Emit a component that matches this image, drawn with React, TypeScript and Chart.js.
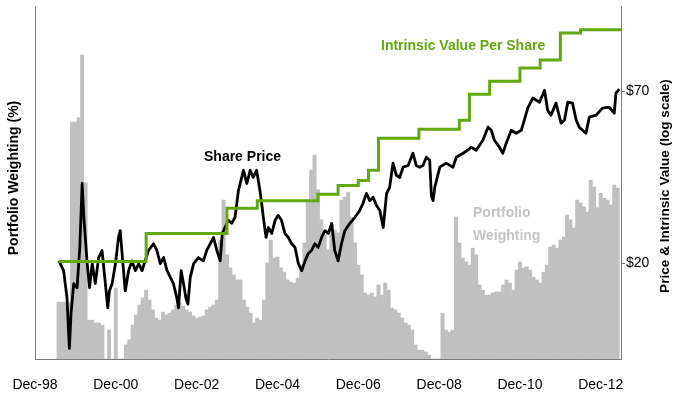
import React, { useEffect, useRef } from 'react';
import { Chart, registerables } from 'chart.js';

Chart.register(...registerables);

const FONT = "'Liberation Sans', Arial, Helvetica, sans-serif";
const GREEN = '#64a80f';
const BAR_GRAY = '#c0c0c0';
const AXIS = '#7a7a7a';

// x axis: months since Dec-98
const tickMonths = [0, 24, 48, 72, 96, 120, 144, 168];
const tickLabels = ['Dec-98', 'Dec-00', 'Dec-02', 'Dec-04', 'Dec-06', 'Dec-08', 'Dec-10', 'Dec-12'];
const priceTicks = [20, 70];

// Portfolio weighting (%), monthly, first bar = month 7 (Jul-99)
const weightStartMonth = 7;
const weighting = [
  1.61, 1.61, 1.61, 1.61, 6.71, 6.71, 6.83, 8.61, 4.99, 1.10,
  1.10, 1.02, 1.02, 0.96, 0, 0.82, 0, 2.01, 0, 0,
  0.40, 0.54, 0.96, 1.25, 1.53, 1.73, 1.95, 1.67, 1.39, 1.16,
  1.10, 1.33, 1.25, 1.30, 1.39, 1.53, 1.59, 1.50, 1.39, 1.33,
  1.22, 1.16, 1.19, 1.22, 1.39, 1.47, 1.53, 1.67, 3.37, 4.50,
  2.95, 2.58, 2.38, 2.24, 2.24, 1.67, 1.47, 1.30, 1.02, 1.16,
  1.10, 1.67, 2.72, 3.37, 2.86, 2.89, 2.58, 2.46, 2.24, 2.18,
  2.15, 2.29, 2.66, 3.29, 4.50, 5.35, 5.78, 4.79, 3.94, 3.51,
  3.09, 3.80, 3.65, 3.57, 4.50, 4.59, 4.73, 4.02, 3.29, 2.66,
  2.38, 1.87, 1.81, 1.87, 1.76, 2.10, 1.81, 2.15, 1.95, 1.44,
  1.39, 1.30, 1.16, 1.02, 0.96, 0.82, 0.40, 0.25, 0.25, 0.20,
  0.11, 0, 0, 0, 1.30, 0.82, 0.76, 0.82, 4.02, 3.29,
  2.86, 2.75, 2.66, 3.14, 2.95, 2.10, 1.95, 1.81, 1.81, 1.87,
  1.90, 1.90, 2.10, 2.24, 2.15, 1.95, 2.52, 2.75, 2.58, 2.61,
  2.52, 2.32, 2.24, 2.15, 2.46, 2.66, 3.17, 3.23, 3.14, 3.37,
  3.46, 4.08, 3.94, 3.71, 4.50, 4.42, 4.31, 4.16, 5.07, 4.87,
  4.28, 4.70, 4.56, 4.50, 4.36, 4.93, 4.84,
];

// Share price ($), months since Dec-98
const priceMonths = [
  7.1, 8.5, 9.5, 10.2, 10.7, 11.5, 12.5, 13.3, 14.0, 14.5, 15.5, 16.2, 17.0, 17.9, 18.9, 19.9, 20.9, 21.6, 22.1, 22.9,
  23.9, 24.8, 25.3, 26.1, 26.8, 27.8, 28.8, 29.8, 30.8, 31.8, 32.7, 33.7, 35.2, 36.2, 37.2, 38.2, 39.2, 40.2, 41.1, 42.1,
  42.6, 43.4, 44.1, 44.8, 45.4, 46.1, 47.1, 48.5, 50.0, 51.0, 52.0, 53.0, 54.0, 55.0, 55.6, 56.4, 57.4, 58.4, 59.4, 60.4,
  61.9, 62.9, 63.9, 64.8, 65.8, 66.8, 67.3, 67.8, 68.6, 69.3, 70.3, 71.3, 72.2, 73.2, 74.2, 75.2, 76.2, 77.2, 78.2, 79.2,
  80.2, 81.1, 82.1, 83.1, 84.1, 85.1, 86.1, 87.1, 88.1, 89.0, 90.0, 91.0, 92.0, 93.5, 95.0, 96.4, 97.4, 98.4, 99.4, 100.4,
  101.4, 102.4, 103.4, 104.4, 105.3, 106.3, 107.3, 108.3, 109.3, 110.8, 112.2, 113.2, 114.2, 115.2, 116.2, 117.2, 117.7, 118.2, 118.7, 120.2,
  122.1, 124.1, 125.1, 127.1, 128.5, 129.5, 131.0, 133.0, 134.5, 135.5, 136.4, 137.9, 138.9, 139.9, 141.4, 142.9, 144.4, 145.3, 146.3, 147.8,
  149.8, 151.3, 152.2, 153.2, 154.7, 156.2, 157.2, 158.2, 159.6, 160.7, 161.6, 162.6, 163.6, 164.6, 166.6, 168.5, 170.5, 172.0, 172.5, 173.5,
];
const priceValues = [
  20.4, 19.0, 15.6, 10.8, 13.9, 17.3, 16.8, 22.5, 35.8, 28.0, 20.0, 16.8, 20.0, 17.3, 20.9, 22.0, 17.3, 14.5, 16.4, 17.3,
  20.0, 24.2, 25.4, 20.0, 16.4, 19.0, 20.4, 19.0, 20.0, 19.0, 20.4, 22.0, 23.1, 22.0, 20.0, 20.9, 19.0, 18.1, 17.3, 15.6,
  14.5, 19.0, 17.3, 15.6, 14.9, 18.1, 20.0, 20.9, 20.4, 22.0, 23.1, 24.2, 22.0, 20.4, 24.9, 26.0, 27.4, 26.8, 28.0, 34.0,
  39.4, 35.8, 39.4, 37.4, 39.4, 34.0, 31.0, 28.0, 24.2, 26.0, 24.9, 27.4, 28.4, 27.4, 24.9, 24.2, 23.1, 22.5, 20.0, 19.0,
  20.4, 21.5, 22.0, 23.1, 22.5, 24.2, 25.4, 24.9, 26.8, 22.0, 20.4, 23.1, 25.4, 26.8, 28.0, 29.4, 31.0, 33.3, 31.6, 32.4,
  30.5, 29.4, 26.0, 33.3, 34.8, 41.5, 38.0, 37.4, 40.3, 40.8, 44.6, 40.8, 40.3, 40.8, 43.3, 42.4, 32.8, 31.6, 34.8, 40.3,
  41.5, 40.3, 43.3, 44.6, 45.6, 46.6, 45.6, 49.0, 53.9, 52.7, 49.0, 46.6, 44.6, 47.9, 52.7, 51.6, 52.7, 56.7, 61.9, 66.6,
  64.6, 70.5, 61.0, 58.8, 64.2, 55.5, 56.7, 64.6, 64.2, 56.7, 53.9, 52.7, 51.6, 58.0, 58.8, 61.9, 62.3, 59.7, 69.0, 71.1,
];

// Intrinsic value per share ($): month where each new level starts
const ivMonths = [7, 33, 57, 66, 84, 90, 96, 99, 102, 114, 126, 129, 135, 144, 150, 156, 162, 174];
const ivValues = [20.3, 24.9, 29.9, 31.6, 33.1, 35.3, 36.6, 39.4, 49.7, 53.1, 56.7, 68.5, 75.3, 82.8, 87.8, 106.9, 109.3, 109.3];

const textPlugin = {
  id: 'texts',
  afterDraw(chart: any) {
    const ctx = chart.ctx as CanvasRenderingContext2D;
    ctx.save();
    ctx.textBaseline = 'middle';
    // left axis title
    ctx.font = `bold 14px ${FONT}`;
    ctx.fillStyle = '#000';
    ctx.textAlign = 'center';
    ctx.save();
    ctx.translate(14, 178);
    ctx.rotate(-Math.PI / 2);
    ctx.fillText('Portfolio Weighting (%)', 0, 0);
    ctx.restore();
    // right axis title
    ctx.font = `bold 13.6px ${FONT}`;
    ctx.save();
    ctx.translate(665, 186);
    ctx.rotate(-Math.PI / 2);
    ctx.fillText('Price & Intrinsic Value (log scale)', 0, 0);
    ctx.restore();
    // annotations
    ctx.textAlign = 'left';
    ctx.font = `bold 14px ${FONT}`;
    ctx.fillStyle = GREEN;
    ctx.fillText('Intrinsic Value Per Share', 381, 46);
    ctx.fillStyle = '#000';
    ctx.fillText('Share Price', 204, 157);
    ctx.fillStyle = '#c4c4c4';
    ctx.fillText('Portfolio', 473, 213);
    ctx.fillText('Weighting', 473, 236);
    ctx.restore();
  },
};

export default function App() {
  const ref = useRef<HTMLCanvasElement>(null);
  useEffect(() => {
    const weightData = weighting.map((v, i) => ({ x: weightStartMonth + i, y: v }));
    const priceData = priceMonths.map((m, i) => ({ x: m, y: priceValues[i] }));
    const ivData = ivMonths.map((m, i) => ({ x: m, y: ivValues[i] }));
    const chart = new Chart(ref.current as HTMLCanvasElement, {
      type: 'bar',
      data: {
        datasets: [
          {
            type: 'line',
            label: 'Intrinsic Value Per Share',
            data: ivData,
            xAxisID: 'x',
            yAxisID: 'yP',
            borderColor: GREEN,
            borderWidth: 3,
            stepped: 'before',
            pointRadius: 0,
            fill: false,
            order: 1,
          } as any,
          {
            type: 'line',
            label: 'Share Price',
            data: priceData,
            xAxisID: 'x',
            yAxisID: 'yP',
            borderColor: '#000',
            borderWidth: 2.8,
            borderJoinStyle: 'round',
            pointRadius: 0,
            tension: 0,
            fill: false,
            order: 2,
          } as any,
          {
            type: 'bar',
            label: 'Portfolio Weighting',
            data: weightData,
            xAxisID: 'x',
            yAxisID: 'yW',
            backgroundColor: BAR_GRAY,
            borderWidth: 0,
            barPercentage: 1,
            categoryPercentage: 1,
            order: 3,
          } as any,
        ],
      },
      options: {
        responsive: false,
        animation: false,
        devicePixelRatio: 1,
        layout: { padding: { top: 6, left: 0, right: 0, bottom: 0 } },
        plugins: { legend: { display: false }, tooltip: { enabled: false } },
        scales: {
          x: {
            type: 'linear',
            position: 'bottom',
            min: 0,
            max: 174,
            offset: false,
            grid: { display: false, drawTicks: false, offset: false },
            border: { display: true, color: AXIS },
            afterBuildTicks: (s: any) => {
              s.ticks = tickMonths.map((v) => ({ value: v }));
            },
            afterFit: (s: any) => {
              s.height = 49;
              s.paddingLeft = 0;
              s.paddingRight = 0;
            },
            ticks: {
              autoSkip: false,
              maxRotation: 0,
              padding: 18,
              color: '#000',
              font: { family: FONT, size: 14 },
              callback: (v: any) => {
                const i = tickMonths.indexOf(Number(v));
                return i >= 0 ? tickLabels[i] : '';
              },
            },
          },
          yW: {
            type: 'linear',
            position: 'left',
            min: 0,
            max: 10,
            grid: { display: false },
            border: { display: true, color: AXIS },
            ticks: { display: false },
            afterFit: (s: any) => {
              s.width = 35;
            },
          },
          yP: {
            type: 'logarithmic',
            position: 'right',
            min: 10,
            max: 130,
            grid: { display: true, drawOnChartArea: false, drawTicks: true, tickLength: 4, color: AXIS },
            border: { display: true, color: AXIS },
            afterBuildTicks: (s: any) => {
              s.ticks = priceTicks.map((v) => ({ value: v }));
            },
            afterFit: (s: any) => {
              s.width = 69;
              s.paddingTop = 0;
              s.paddingBottom = 0;
            },
            ticks: {
              autoSkip: false,
              padding: 1,
              color: '#000',
              font: { family: FONT, size: 14 },
              callback: (v: any) => '$' + v,
            },
          },
        } as any,
      },
      plugins: [textPlugin],
    });
    return () => chart.destroy();
  }, []);
  return (
    <div style={{ position: 'fixed', left: 0, top: 0, width: 690, height: 408, background: '#fff' }}>
      <canvas ref={ref} width={690} height={408} style={{ display: 'block', width: 690, height: 408 }} />
    </div>
  );
}
